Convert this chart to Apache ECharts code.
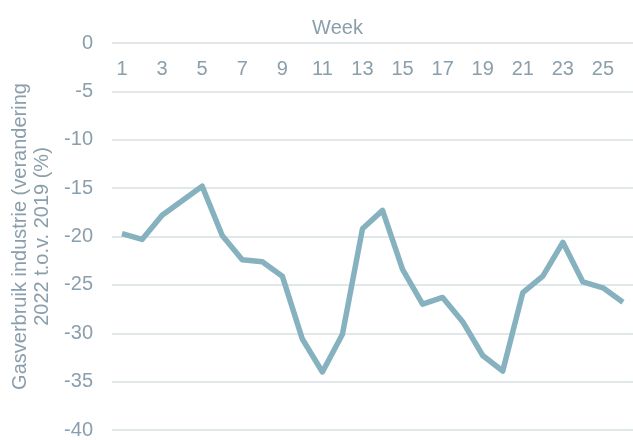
<!DOCTYPE html>
<html><head><meta charset="utf-8">
<script src="https://cdn.jsdelivr.net/npm/echarts@6/dist/echarts.min.js"></script>
<style>html,body{margin:0;padding:0;background:#fff}#c{width:633px;height:440px}</style>
</head><body><div id="c"></div>
<script>
var weeks = ['1','2','3','4','5','6','7','8','9','10','11','12','13','14','15','16','17','18','19','20','21','22','23','24','25','26'];
var values = [-19.7,-20.3,-17.8,-16.3,-14.8,-19.9,-22.4,-22.6,-24.1,-30.6,-34.0,-30.1,-19.2,-17.3,-23.4,-27.0,-26.3,-28.8,-32.3,-33.9,-25.8,-24.1,-20.6,-24.7,-25.3,-26.8];
var xName = 'Week';
var yName = 'Gasverbruik industrie (verandering\n2022 t.o.v. 2019 (%)';
var textColor = '#8a9eab';
var font = 'Liberation Sans, Arial, sans-serif';
var chart = echarts.init(document.getElementById('c'), null, {renderer:'canvas'});
chart.setOption({
  animation:false,
  grid:{left:112, right:0, top:43, bottom:9, containLabel:false},
  xAxis:{
    type:'category', data:weeks, position:'top', boundaryGap:true,
    name:xName, nameLocation:'middle', nameGap:5,
    nameTextStyle:{color:textColor, fontSize:20, fontFamily:font, padding:[0,70,0,0]},
    axisLine:{show:false}, axisTick:{show:false},
    axisLabel:{inside:true, interval:1, margin:16, color:textColor, fontSize:20, fontFamily:font}
  },
  yAxis:{
    type:'value', min:-40, max:0, interval:5,
    name:yName, nameLocation:'middle', nameRotate:90, nameGap:57,
    nameTextStyle:{color:textColor, fontSize:20, fontFamily:font, lineHeight:22},
    axisLine:{show:false}, axisTick:{show:false},
    axisLabel:{margin:19, color:textColor, fontSize:20, fontFamily:font},
    splitLine:{lineStyle:{color:'#e2e7ea', width:2}}
  },
  series:[{
    type:'line', data:values, symbol:'none',
    lineStyle:{color:'#86b2bf', width:5.5, join:'round'}
  }]
});
</script></body></html>
